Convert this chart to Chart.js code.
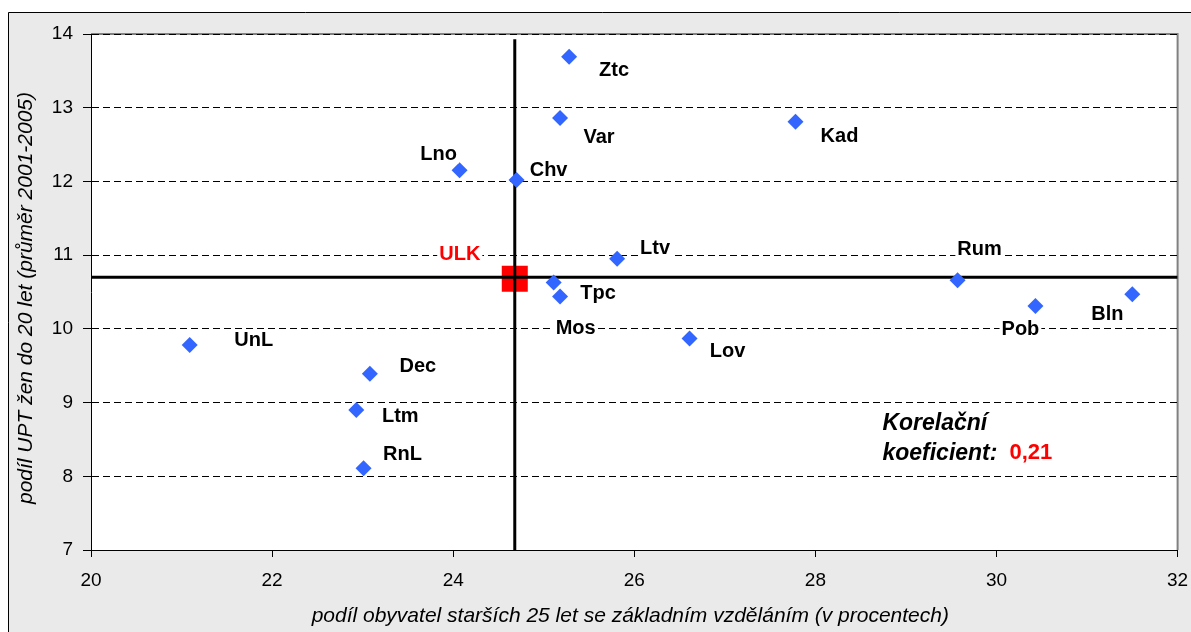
<!DOCTYPE html>
<html><head><meta charset="utf-8">
<script src="https://cdn.jsdelivr.net/npm/chart.js@4.4.1/dist/chart.umd.min.js"></script>
<style>html,body{margin:0;padding:0;background:#fff;overflow:hidden;} canvas{display:block;}</style>
</head><body>
<canvas id="c" width="1196" height="632"></canvas>
<script>
// ---- data ----
const districts  = ['Ztc','Var','Kad','Lno','Chv','Ltv','Mos','Tpc','Lov','Rum','Pob','Bln','UnL','Dec','Ltm','RnL'];
const eduShare   = [25.28,25.18,27.78,24.07,24.70,25.81,25.11,25.18,26.61,29.57,30.43,31.50,21.09,23.08,22.93,23.01];
const teenBirths = [13.69,12.86,12.81,12.15,12.02,10.95,10.63,10.44,9.87,10.66,10.31,10.47,9.78,9.39,8.90,8.11];
const regionName = 'ULK';
const regionEdu = [24.68];
const regionBirths = [10.68];
const avgEdu = 24.68;      // vertical reference line
const avgBirths = 10.70;   // horizontal reference line
const vLineRange = [7, 13.93];
const hLineRange = [20, 32];
const xRange = [20, 32], xStep = 2;
const yRange = [7, 14], yStep = 1;
const xTitle = 'podíl obyvatel starších 25 let se základním vzděláním (v procentech)';
const yTitle = 'podíl UPT žen do 20 let (průměr 2001-2005)';
const corrText = ['Korelační', 'koeficient:'];
const corrValue = '0,21';
const corrAnchor = {x: 28.74, y1: 8.72, y2: 8.31};

// ---- style (label offsets in px) ----
const labelOffsets = [[45,13],[39,18],[44,14],[-21,-17],[32,-10],[38,-11],[22,45],[38,-4],[38,12],[22,-32],[-15,22],[-25,19],[64,-6],[48,-8],[44,6],[39,-15]];
const regionLabelOffset = [-55,-25];
const FONT = 'Arial, "Liberation Sans", sans-serif';

const bgPlugin = {
  id: 'bg',
  beforeDraw(chart) {
    const {ctx, chartArea: a} = chart;
    ctx.save();
    ctx.fillStyle = '#ffffff';
    ctx.fillRect(0, 0, chart.width, chart.height);
    ctx.fillStyle = '#eaeaea';
    ctx.fillRect(8, 12, chart.width, chart.height);
    ctx.strokeStyle = '#000';
    ctx.lineWidth = 1;
    ctx.beginPath();
    ctx.moveTo(8.5, chart.height + 2); ctx.lineTo(8.5, 12.5); ctx.lineTo(chart.width + 2, 12.5);
    ctx.stroke();
    ctx.fillStyle = '#ffffff';
    ctx.fillRect(a.left, a.top, a.right - a.left, a.bottom - a.top);
    ctx.strokeStyle = '#808080';
    ctx.lineWidth = 2;
    ctx.beginPath();
    ctx.moveTo(a.left, a.top); ctx.lineTo(a.right, a.top); ctx.lineTo(a.right, a.bottom);
    ctx.stroke();
    ctx.restore();
  }
};

const labelPlugin = {
  id: 'labels',
  afterDatasetsDraw(chart) {
    const {ctx, chartArea: a} = chart;
    const xs = chart.scales.x, ys = chart.scales.y;
    ctx.save();
    ctx.textAlign = 'center';
    ctx.textBaseline = 'middle';
    ctx.font = 'bold 20px ' + FONT;
    const drawLabel = (txt, px, py, color) => {
      const w = ctx.measureText(txt).width;
      ctx.fillStyle = '#fff';
      ctx.fillRect(px - w/2 - 2, py - 10, w + 4, 20);
      ctx.fillStyle = color;
      ctx.fillText(txt, px, py + 1);
    };
    districts.forEach((d, i) => {
      const px = xs.getPixelForValue(eduShare[i]) + labelOffsets[i][0];
      const py = ys.getPixelForValue(teenBirths[i]) + labelOffsets[i][1];
      drawLabel(d, px, py, '#000');
    });
    drawLabel(regionName, xs.getPixelForValue(regionEdu[0]) + regionLabelOffset[0],
              ys.getPixelForValue(regionBirths[0]) + regionLabelOffset[1], '#ff0000');

    // correlation note
    ctx.textAlign = 'left';
    ctx.fillStyle = '#000';
    ctx.font = 'italic bold 23px ' + FONT;
    const cx = xs.getPixelForValue(corrAnchor.x);
    ctx.fillText(corrText[0], cx, ys.getPixelForValue(corrAnchor.y1));
    ctx.fillText(corrText[1], cx, ys.getPixelForValue(corrAnchor.y2));
    const w2 = ctx.measureText(corrText[1]).width;
    ctx.font = 'bold 22px ' + FONT;
    ctx.fillStyle = '#ff0000';
    ctx.fillText(corrValue, cx + w2 + 12, ys.getPixelForValue(corrAnchor.y2));

    // axis titles
    ctx.fillStyle = '#000';
    ctx.font = 'italic 21px ' + FONT;
    ctx.textAlign = 'center';
    ctx.textBaseline = 'alphabetic';
    ctx.fillText(xTitle, (a.left + a.right) / 2 - 4, 622);
    ctx.translate(32, 298);
    ctx.rotate(-Math.PI/2);
    ctx.fillText(yTitle, 0, 0);
    ctx.restore();
  }
};

const chart = new Chart(document.getElementById('c'), {
  type: 'scatter',
  data: {
    datasets: [
      {
        label: 'okresy',
        data: districts.map((d, i) => ({x: eduShare[i], y: teenBirths[i]})),
        pointStyle: 'rectRot',
        pointRadius: 8,
        pointHoverRadius: 8,
        backgroundColor: '#3366ff',
        borderWidth: 0,
        order: 0
      },
      {
        label: 'vline',
        data: vLineRange.map(v => ({x: avgEdu, y: v})),
        showLine: true,
        borderColor: '#000',
        borderWidth: 3,
        pointRadius: 0,
        order: 1
      },
      {
        label: 'hline',
        data: hLineRange.map(v => ({x: v, y: avgBirths})),
        showLine: true,
        borderColor: '#000',
        borderWidth: 3,
        pointRadius: 0,
        order: 1
      },
      {
        label: regionName,
        data: regionEdu.map((v, i) => ({x: v, y: regionBirths[i]})),
        pointStyle: 'rect',
        pointRadius: 18.4,
        pointHoverRadius: 18.4,
        backgroundColor: '#ff0000',
        borderWidth: 0,
        order: 2
      }
    ]
  },
  options: {
    responsive: false,
    animation: false,
    devicePixelRatio: 1,
    layout: {padding: {left: 0, top: 34, right: 0, bottom: 0}},
    plugins: {legend: {display: false}, tooltip: {enabled: false}},
    scales: {
      x: {
        type: 'linear', min: xRange[0], max: xRange[1],
        ticks: {stepSize: xStep, color: '#000', font: {size: 19, family: FONT}, padding: 12, maxRotation: 0},
        grid: {drawOnChartArea: false, drawTicks: true, tickLength: 7, color: '#000'},
        border: {color: '#000', width: 1},
        afterFit(s) { s.height = 82; s.paddingLeft = 0; s.paddingRight = 0; }
      },
      y: {
        type: 'linear', min: yRange[0], max: yRange[1],
        ticks: {stepSize: yStep, color: '#000', font: {size: 19, family: FONT}, padding: 10},
        grid: {color: '#000', lineWidth: 1, tickLength: 8, drawTicks: true},
        border: {color: '#000', width: 1, dash: [7, 4]},
        afterFit(s) { s.width = 91; s.paddingTop = 0; s.paddingBottom = 0; }
      }
    }
  },
  plugins: [bgPlugin, labelPlugin]
});
</script>
</body></html>
